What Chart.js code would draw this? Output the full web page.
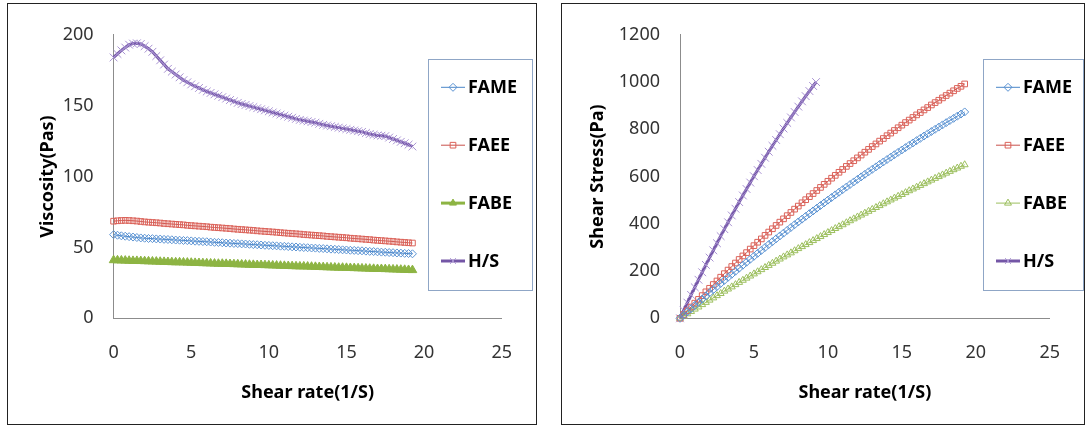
<!DOCTYPE html>
<html>
<head>
<meta charset="utf-8">
<script src="https://cdn.jsdelivr.net/npm/chart.js@4.4.0/dist/chart.umd.min.js"></script>
<style>
  html, body { margin: 0; padding: 0; background: #fff; }
  body { width: 1085px; height: 427px; position: relative; overflow: hidden; }
  .panel { position: absolute; top: 3px; border: 1px solid #222; background: #fff; }
  #leftPanel { left: 7px; width: 528px; height: 420px; }
  #rightPanel { left: 561px; width: 522px; height: 420px; }
  canvas { display: block; }
</style>
</head>
<body>
<div class="panel" id="leftPanel"><canvas id="viscChart" width="528" height="420"></canvas></div>
<div class="panel" id="rightPanel"><canvas id="stressChart" width="522" height="420"></canvas></div>
<script>
// shear rate (1/S), one row per whole unit
const shearRate = [
  0, 0.25, 0.5, 0.75,  1, 1.25, 1.5, 1.75,  2, 2.25, 2.5, 2.75,  3, 3.25, 3.5, 3.75,
  4, 4.25, 4.5, 4.75,  5, 5.25, 5.5, 5.75,  6, 6.25, 6.5, 6.75,  7, 7.25, 7.5, 7.75,
  8, 8.25, 8.5, 8.75,  9, 9.25, 9.5, 9.75,  10, 10.25, 10.5, 10.75,  11, 11.25, 11.5, 11.75,
  12, 12.25, 12.5, 12.75,  13, 13.25, 13.5, 13.75,  14, 14.25, 14.5, 14.75,  15, 15.25, 15.5, 15.75,
  16, 16.25, 16.5, 16.75,  17, 17.25, 17.5, 17.75,  18, 18.25, 18.5, 18.75,  19, 19.25];

// viscosity (Pas)
const viscFAME = [
  59, 58.6, 58.2, 57.9,  57.6, 57.3, 57, 56.7,  56.5, 56.3, 56.2, 56,  55.9, 55.7, 55.6, 55.4,
  55.2, 55.1, 54.9, 54.8,  54.6, 54.4, 54.3, 54.1,  54, 53.8, 53.6, 53.5,  53.3, 53.1, 53, 52.8,
  52.7, 52.5, 52.4, 52.2,  52, 51.9, 51.7, 51.5,  51.4, 51.2, 51.1, 50.9,  50.8, 50.6, 50.4, 50.3,
  50.1, 49.9, 49.8, 49.6,  49.5, 49.3, 49.2, 49,  48.8, 48.7, 48.5, 48.3,  48.2, 48, 47.9, 47.7,
  47.6, 47.4, 47.2, 47.1,  46.9, 46.7, 46.6, 46.4,  46.3, 46.1, 46, 45.8,  45.7, 45.5];
const viscFAEE = [
  68.5, 68.8, 69, 69.1,  69, 68.8, 68.6, 68.3,  68, 67.8, 67.6, 67.4,  67.2, 66.9, 66.7, 66.5,
  66.3, 66.1, 65.9, 65.6,  65.4, 65.2, 65, 64.8,  64.6, 64.3, 64.1, 63.9,  63.7, 63.5, 63.3, 63,
  62.8, 62.6, 62.4, 62.2,  62, 61.7, 61.5, 61.3,  61.1, 60.9, 60.7, 60.4,  60.2, 60, 59.8, 59.6,
  59.4, 59.1, 58.9, 58.7,  58.5, 58.3, 58.1, 57.8,  57.6, 57.4, 57.2, 57,  56.8, 56.5, 56.3, 56.1,
  55.9, 55.7, 55.5, 55.2,  55, 54.8, 54.6, 54.4,  54.2, 53.9, 53.7, 53.5,  53.3, 53.1];
const viscFABE = [
  41, 40.9, 40.8, 40.7,  40.6, 40.5, 40.5, 40.4,  40.3, 40.2, 40.1, 40,  39.9, 39.8, 39.7, 39.6,
  39.5, 39.5, 39.4, 39.3,  39.2, 39.1, 39, 38.9,  38.8, 38.7, 38.6, 38.5,  38.5, 38.4, 38.3, 38.2,
  38.1, 38, 37.9, 37.8,  37.7, 37.6, 37.6, 37.5,  37.4, 37.3, 37.2, 37.1,  37, 36.9, 36.8, 36.7,
  36.6, 36.6, 36.5, 36.4,  36.3, 36.2, 36.1, 36,  35.9, 35.8, 35.7, 35.7,  35.6, 35.5, 35.4, 35.3,
  35.2, 35.1, 35, 34.9,  34.8, 34.8, 34.7, 34.6,  34.5, 34.4, 34.3, 34.2,  34.1, 34];
const viscHS = [
  184, 186.5, 189, 191,  193, 193.8, 194, 193.5,  192, 190.2, 188, 185,  182, 179, 176, 174,
  172, 170, 168, 166.5,  165, 163.7, 162.5, 161.2,  160, 159, 158, 157,  156, 155, 154, 153,
  152, 151.2, 150.5, 149.7,  149, 148.2, 147.5, 146.7,  146, 145.2, 144.5, 143.7,  143, 142.2, 141.5, 140.7,
  140, 139.5, 139, 138.5,  138, 137.2, 136.5, 136,  135.5, 135, 134.5, 134,  133.5, 133, 132.5, 132,
  131.5, 130.7, 130, 129.5,  129, 128.8, 128.5, 127.5,  126.5, 125.5, 124.5, 123.5,  122.5, 121.2];

// shear stress (Pa)
const stressFAME = [
  0, 13.7, 27.4, 41,  54.5, 68, 81.4, 94.7,  108, 121.2, 134.4, 147.5,  160.5, 173.5, 186.4, 199.2,
  212, 224.7, 237.4, 250,  262.5, 275, 287.4, 299.7,  312, 324.2, 336.4, 348.5,  360.5, 372.5, 384.4, 396.2,
  408, 419.7, 431.4, 443,  454.5, 466, 477.4, 488.7,  500, 511.2, 522.4, 533.5,  544.5, 555.5, 566.4, 577.2,
  588, 598.7, 609.4, 620,  630.5, 641, 651.4, 661.7,  672, 682.2, 692.4, 702.5,  712.5, 722.5, 732.4, 742.2,
  752, 761.7, 771.4, 781,  790.5, 800, 809.4, 818.7,  828, 837.2, 846.4, 855.5,  864.5, 873.5];
const stressFAEE = [
  0, 16, 32, 48,  64, 80, 96, 112,  127, 143, 158, 174,  189, 204, 219, 234,
  249, 264, 278, 293,  307.5, 322, 336, 351,  365, 379, 393, 407,  421, 434.5, 448, 462,
  475, 489, 502, 515,  528, 541, 554, 567,  580, 593, 605, 618,  630, 643, 655, 667,
  679, 691, 703, 715,  727, 738, 750, 761,  773, 784, 795, 806.5,  817.5, 828.5, 839, 850,
  861, 871, 882, 892,  903, 913, 923, 933,  943, 953, 963, 973,  982, 992];
const stressFABE = [
  0, 9.7, 19, 29,  39, 48, 58, 67.5,  77, 86.5, 96, 105,  115, 124, 133, 142.5,
  152, 161, 170, 179,  188, 197, 206, 215,  224, 233, 242, 251,  260, 268.5, 277, 286,
  295, 303.5, 312, 320.5,  329, 337.5, 346, 354.5,  363, 371.5, 380, 388,  396, 404.5, 413, 421,
  429, 437, 445, 453,  461, 469, 477, 485,  493, 501, 509, 516.5,  524, 532, 540, 547.5,
  555, 562.5, 570, 577.5,  585, 592.5, 600, 607,  614.5, 622, 629, 636,  643.5, 650];
// H/S stops earlier on the stress plot
const hsRate = [
  0, 0.25, 0.5, 0.75,  1, 1.25, 1.5, 1.75,  2, 2.25, 2.5, 2.75,  3, 3.25, 3.5, 3.75,
  4, 4.25, 4.5, 4.75,  5, 5.25, 5.5, 5.75,  6, 6.25, 6.5, 6.75,  7, 7.25, 7.5, 7.75,
  8, 8.25, 8.5, 8.75,  9, 9.2];
const stressHS = [
  0, 33.3, 66.3, 99,  131.3, 163.2, 194.8, 226.1,  257, 287.6, 317.8, 347.7,  377.3, 406.5, 435.3, 463.8,
  492, 519.8, 547.3, 574.5,  601.3, 627.7, 653.8, 679.6,  705, 730.1, 754.8, 779.2,  803.3, 827, 850.3, 873.3,
  896, 918.3, 940.3, 962,  983.3, 1000];

const seriesNames = ['FAME', 'FAEE', 'FABE', 'H/S'];

const FONT = '"Noto Sans", "DejaVu Sans", sans-serif';
Chart.defaults.font.family = FONT;

function pts(xs, ys) {
  return xs.map((x, i) => ({ x: x, y: ys[i] }));
}

// legend drawn as an Excel style box sitting over the plot
const boxLegend = {
  id: 'boxLegend',
  afterDraw(chart, args, opts) {
    const ctx = chart.ctx;
    ctx.save();
    ctx.fillStyle = '#fff';
    ctx.fillRect(opts.x, opts.y, opts.w, opts.h);
    ctx.strokeStyle = '#8FA6C6';
    ctx.lineWidth = 1;
    ctx.strokeRect(opts.x + 0.5, opts.y + 0.5, opts.w, opts.h);
    chart.data.datasets.forEach((ds, i) => {
      const y = opts.firstY + i * opts.gap;
      const x0 = opts.lineX;
      ctx.strokeStyle = ds.borderColor;
      ctx.lineWidth = ds.borderWidth;
      ctx.beginPath();
      ctx.moveTo(x0, y);
      ctx.lineTo(x0 + 24, y);
      ctx.stroke();
      ctx.fillStyle = ds.pointBackgroundColor;
      ctx.strokeStyle = ds.pointBorderColor;
      ctx.lineWidth = ds.pointBorderWidth;
      Chart.helpers.drawPoint(ctx, {
        pointStyle: ds.pointStyle, radius: Math.min(ds.pointRadius, 4), borderWidth: ds.pointBorderWidth, rotation: 0
      }, x0 + 12, y);
      ctx.fillStyle = '#000';
      ctx.font = 'bold 18px ' + FONT;
      ctx.textBaseline = 'middle';
      ctx.textAlign = 'left';
      ctx.fillText(ds.label, x0 + 27, y + 1);
    });
    ctx.restore();
  }
};

function makeScales(yMax, yStep, yTitle, yWidth) {
  return {
    x: {
      type: 'linear', min: 0, max: 25,
      ticks: { stepSize: 5, padding: 24, color: '#333', font: { size: 18 } },
      grid: { display: false, drawTicks: false },
      border: { color: '#8C8C8C', width: 1 },
      title: { display: true, text: 'Shear rate(1/S)', color: '#000',
        font: { size: 18, weight: 'bold' }, padding: { top: 0, bottom: 20 } },
      afterFit(s) { s.height = 105.7; }
    },
    y: {
      type: 'linear', min: 0, max: yMax,
      ticks: { stepSize: yStep, padding: 20, color: '#333', font: { size: 18 },
        callback: (v) => String(v) },
      grid: { display: false, drawTicks: false },
      border: { color: '#8C8C8C', width: 1 },
      title: { display: true, text: yTitle, color: '#000',
        font: { size: 18, weight: 'bold' }, padding: { top: yWidth.title, bottom: 0 } },
      afterFit(s) { s.width = yWidth.w; }
    }
  };
}

// left: viscosity
new Chart(document.getElementById('viscChart'), {
  type: 'scatter',
  data: {
    datasets: [
      { label: seriesNames[0], data: pts(shearRate, viscFAME), showLine: true, clip: false,
        borderColor: '#4A86C8', borderWidth: 1, pointStyle: 'rectRot', pointRadius: 4,
        pointBorderColor: '#5B93D3', pointBackgroundColor: 'rgba(255,255,255,0)', pointBorderWidth: 1 },
      { label: seriesNames[1], data: pts(shearRate, viscFAEE), showLine: true, clip: false,
        borderColor: '#C8504B', borderWidth: 1, pointStyle: 'rect', pointRadius: 4,
        pointBorderColor: '#DB6259', pointBackgroundColor: 'rgba(255,255,255,0)', pointBorderWidth: 1 },
      { label: seriesNames[2], data: pts(shearRate, viscFABE), showLine: true, clip: false,
        borderColor: '#8DB443', borderWidth: 3, pointStyle: 'triangle', pointRadius: 5,
        pointBorderColor: '#8DB443', pointBackgroundColor: '#8DB443', pointBorderWidth: 1 },
      { label: seriesNames[3], data: pts(shearRate, viscHS), showLine: true, clip: false,
        borderColor: '#7456A6', borderWidth: 3, pointStyle: 'crossRot', pointRadius: 5.5,
        pointBorderColor: '#A892D2', pointBackgroundColor: '#A892D2', pointBorderWidth: 1 }
    ]
  },
  options: {
    responsive: false, animation: false, devicePixelRatio: 1,
    layout: { padding: { left: 0, top: 25.3, right: 23, bottom: 0 } },
    scales: makeScales(200, 50, 'Viscosity(Pas)', { w: 105.6, title: 29 }),
    plugins: {
      legend: { display: false },
      tooltip: { enabled: false },
      boxLegend: { x: 420, y: 55, w: 104, h: 231, lineX: 433, firstY: 83.3, gap: 57.9 }
    }
  },
  plugins: [boxLegend]
});

// right: shear stress
new Chart(document.getElementById('stressChart'), {
  type: 'scatter',
  data: {
    datasets: [
      { label: seriesNames[0], data: pts(shearRate, stressFAME), showLine: true, clip: false,
        borderColor: '#4A86C8', borderWidth: 1, pointStyle: 'rectRot', pointRadius: 4,
        pointBorderColor: '#5B93D3', pointBackgroundColor: 'rgba(255,255,255,0)', pointBorderWidth: 1 },
      { label: seriesNames[1], data: pts(shearRate, stressFAEE), showLine: true, clip: false,
        borderColor: '#C8504B', borderWidth: 1, pointStyle: 'rect', pointRadius: 4,
        pointBorderColor: '#DB6259', pointBackgroundColor: 'rgba(255,255,255,0)', pointBorderWidth: 1 },
      { label: seriesNames[2], data: pts(shearRate, stressFABE), showLine: true, clip: false,
        borderColor: '#9CBF5E', borderWidth: 1, pointStyle: 'triangle', pointRadius: 4,
        pointBorderColor: '#9CBF5E', pointBackgroundColor: 'rgba(255,255,255,0)', pointBorderWidth: 1 },
      { label: seriesNames[3], data: pts(hsRate, stressHS), showLine: true, clip: false,
        borderColor: '#7456A6', borderWidth: 3, pointStyle: 'crossRot', pointRadius: 5.5,
        pointBorderColor: '#A892D2', pointBackgroundColor: '#A892D2', pointBorderWidth: 1 }
    ]
  },
  options: {
    responsive: false, animation: false, devicePixelRatio: 1,
    layout: { padding: { left: 0, top: 25.3, right: 18, bottom: 0 } },
    scales: makeScales(1200, 200, 'Shear Stress(Pa)', { w: 118, title: 25 }),
    plugins: {
      legend: { display: false },
      tooltip: { enabled: false },
      boxLegend: { x: 421, y: 55, w: 100, h: 231, lineX: 434, firstY: 83.3, gap: 57.9 }
    }
  },
  plugins: [boxLegend]
});
</script>
</body>
</html>
